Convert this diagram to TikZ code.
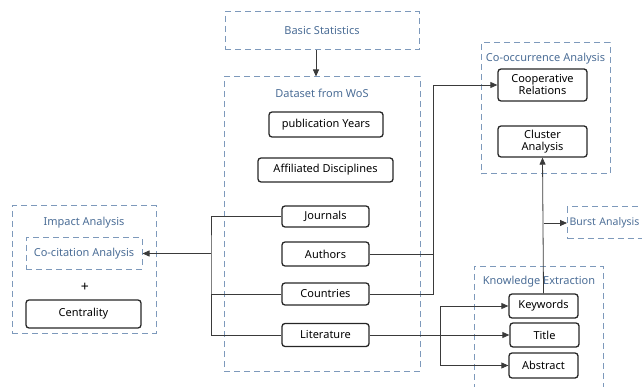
\documentclass[tikz,border=0pt]{standalone}
\usepackage{fontspec}
\setmainfont{Noto Sans}
\usetikzlibrary{arrows.meta}
\definecolor{dashblue}{HTML}{7D99BB}
\definecolor{ttlblue}{HTML}{4B6D96}
\definecolor{linegray}{HTML}{3A3A3A}
\tikzset{
  dbox/.style={draw=dashblue, line width=1pt, dash pattern=on 6pt off 4pt, inner sep=0pt},
  rbox/.style={draw=black!85, line width=1.3pt, rounded corners=3pt, inner sep=1pt, align=center, font=\fontsize{11}{13}\selectfont},
  ttl/.style={text=ttlblue, font=\fontsize{11}{13}\selectfont},
  conn/.style={draw=linegray, line width=0.8pt},
  arr/.style={conn, -{Triangle[length=7pt,width=6pt]}}
}
\begin{document}
\begin{tikzpicture}[x=1pt,y=-1pt]
    \useasboundingbox (0,0) rectangle (642,387);
    \node[dbox, ttl, minimum width=194pt, minimum height=38pt] (bs) at (322,31) {Basic Statistics};
    \node[dbox, minimum width=196pt, minimum height=294pt] (ds) at (322,224) {};
    \node[ttl] (dst) at (322,93) {Dataset from WoS};
    \node[rbox, minimum width=114pt, minimum height=25pt] (py) at (326,124.5) {publication Years};
    \node[rbox, minimum width=135pt, minimum height=24pt] (ad) at (325.5,170) {Affiliated Disciplines};
    \node[rbox, minimum width=87pt, minimum height=21pt] (jo) at (325.5,216.5) {Journals};
    \node[rbox, minimum width=87pt, minimum height=24pt] (au) at (325.5,254) {Authors};
    \node[rbox, minimum width=87pt, minimum height=22pt] (co) at (325.5,294) {Countries};
    \node[rbox, minimum width=87pt, minimum height=23pt] (li) at (325.5,335) {Literature};
    \node[dbox, minimum width=144pt, minimum height=127pt] (ia) at (84,269.5) {};
    \node[ttl] (iat) at (84,223) {Impact Analysis};
    \node[dbox, ttl, minimum width=116pt, minimum height=31pt] (cc) at (84,253.5) {Co-citation Analysis};
    \node[font=\fontsize{14}{14}\selectfont] (plus) at (85,287) {+};
    \node[rbox, minimum width=115pt, minimum height=28pt] (ce) at (83.5,314) {Centrality};
    \node[dbox, minimum width=129pt, minimum height=131pt] (coa) at (545.5,108.5) {};
    \node[ttl] (coat) at (545.5,59) {Co-occurrence Analysis};
    \node[rbox, minimum width=89pt, minimum height=32pt, font=\fontsize{11}{12}\selectfont] (cr) at (542.5,85) {Cooperative\\Relations};
    \node[rbox, minimum width=89pt, minimum height=31pt, font=\fontsize{11}{12}\selectfont] (cl) at (542.5,141.5) {Cluster\\Analysis};
    \node[dbox, ttl, anchor=west, minimum height=32pt, text width=110pt, inner xsep=2pt, align=left, font=\fontsize{10.5}{12}\selectfont] (ba) at (567,223) {Burst Analysis};
    \node[dbox, minimum width=129pt, minimum height=134pt] (ke) at (538.5,333) {};
    \node[ttl] (ket) at (539,282) {Knowledge Extraction};
    \node[rbox, minimum width=69pt, minimum height=24pt] (kw) at (543.5,306) {Keywords};
    \node[rbox, minimum width=69pt, minimum height=24pt] (ti) at (544.5,335) {Title};
    \node[rbox, minimum width=69pt, minimum height=25pt] (ab) at (543.5,365.5) {Abstract};
    \coordinate (lb) at (211,253.5);
    \coordinate (rb) at (433,85);
    \coordinate (kb) at (440,335);
    \coordinate (bb) at (kw.north |- ba.west);
    \draw[arr] ([xshift=-6pt]bs.south) -- ([xshift=-6pt]ds.north);
    \draw[conn] (jo.west) -| (lb) |- (li.west);
    \draw[conn] (co.west) -- (co.west -| lb);
    \draw[arr] (lb) -- (cc.east);
    \draw[conn] (au.east) -- (au.east -| rb);
    \draw[arr] (co.east) -| (rb) -- (cr.west);
    \draw[arr] (li.east) -- (ti.west);
    \draw[arr] (kb) |- (kw.west);
    \draw[arr] (kb) |- (ab.west);
    \draw[arr] (kw.north) -- (cl.south);
    \draw[arr] (bb) -- (ba.west);
\end{tikzpicture}
\end{document}
